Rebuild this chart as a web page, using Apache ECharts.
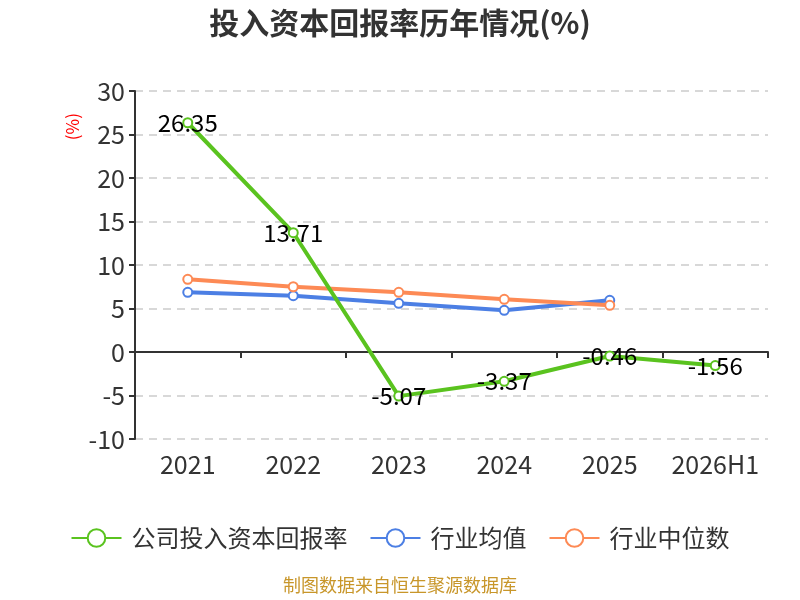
<!DOCTYPE html>
<html>
<head>
<meta charset="utf-8">
<script src="https://cdn.jsdelivr.net/npm/echarts@6/dist/echarts.min.js"></script>
<style>html,body{margin:0;padding:0;background:#fff;}#c{width:800px;height:600px;}</style>
</head>
<body>
<div id="c"></div>
<script>
var categories = ['2021', '2022', '2023', '2024', '2025', '2026H1'];
var companyROIC = [26.35, 13.71, -5.07, -3.37, -0.46, -1.56];
var industryAvg = [6.86, 6.47, 5.6, 4.79, 5.94];
var industryMedian = [8.36, 7.5, 6.86, 6.06, 5.37];
var yTicks = { min: -10, max: 30, interval: 5 };
var seriesNames = ['公司投入资本回报率', '行业均值', '行业中位数'];

var FONT = '"Noto Sans CJK SC", "Noto Sans", sans-serif';
var chart = echarts.init(document.getElementById('c'));
chart.setOption({
  backgroundColor: '#fff',
  animation: false,
  textStyle: { fontFamily: FONT },
  title: {
    text: '投入资本回报率历年情况(%)',
    left: 'center', top: 3,
    textStyle: { fontSize: 30, fontWeight: 'bold', color: '#333', fontFamily: FONT }
  },
  legend: {
    bottom: 45, left: 'center',
    itemWidth: 50, itemHeight: 22, itemGap: 22,
    textStyle: { fontSize: 24, color: '#333', fontFamily: FONT, padding: [0, 0, 0, 5] },
    data: seriesNames
  },
  graphic: [
    { type: 'text', left: 64, top: 113, rotation: Math.PI / 2,
      style: { text: '(%)', fill: '#ff0000', font: '17px ' + FONT } },
    { type: 'text', left: 'center', top: 576,
      style: { text: '制图数据来自恒生聚源数据库', fill: '#c8962a', font: '18px ' + FONT } }
  ],
  grid: { left: 135, right: 32, top: 91, bottom: 161, containLabel: false },
  xAxis: [
    { type: 'category', data: categories, position: 'bottom',
      axisLine: { show: false, onZero: false }, axisTick: { show: false },
      axisLabel: { fontSize: 25, color: '#333', margin: 13, interval: 0, fontFamily: FONT } },
    { type: 'category', data: categories, position: 'bottom',
      axisLine: { show: true, onZero: true, lineStyle: { color: '#333', width: 2 } },
      axisTick: { show: true, length: 6, interval: 0, lineStyle: { color: '#333', width: 2 } },
      axisLabel: { show: false } }
  ],
  yAxis: {
    type: 'value', min: yTicks.min, max: yTicks.max, interval: yTicks.interval,
    axisLine: { show: true, lineStyle: { color: '#333', width: 2 } },
    axisTick: { show: true, length: 6, lineStyle: { color: '#333', width: 2 } },
    axisLabel: { fontSize: 25, color: '#333', margin: 10, fontFamily: FONT },
    splitLine: { show: true, lineStyle: { color: '#ccc', type: [8, 6], width: 1.5 } }
  },
  series: [
    { name: seriesNames[0], type: 'line', data: companyROIC, xAxisIndex: 0,
      symbol: 'emptyCircle', symbolSize: 9, z: 5,
      itemStyle: { color: '#5ac31f', borderWidth: 2 },
      lineStyle: { color: '#5ac31f', width: 4 },
      label: { show: true, position: 'inside', fontSize: 24, color: '#000', fontFamily: FONT }
    },
    { name: seriesNames[1], type: 'line', data: industryAvg, xAxisIndex: 0,
      symbol: 'emptyCircle', symbolSize: 9,
      itemStyle: { color: '#4c7fe4', borderWidth: 2 },
      lineStyle: { color: '#4c7fe4', width: 4 } },
    { name: seriesNames[2], type: 'line', data: industryMedian, xAxisIndex: 0,
      symbol: 'emptyCircle', symbolSize: 9,
      itemStyle: { color: '#fd8a55', borderWidth: 2 },
      lineStyle: { color: '#fd8a55', width: 4 } }
  ]
});
</script>
</body>
</html>
